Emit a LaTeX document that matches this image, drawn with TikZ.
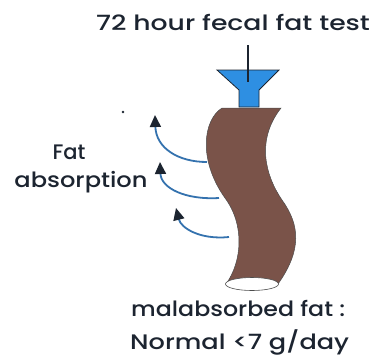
\documentclass[tikz,border=0pt]{standalone}
\usepackage{fontspec}
\setmainfont{Poppins}[UprightFont=* Medium]
\usetikzlibrary{arrows.meta,shapes.geometric}
\definecolor{ink}{HTML}{1C2430}
\definecolor{gut}{HTML}{7A5349}
\definecolor{funnelblue}{HTML}{2E8FE2}
\definecolor{flowblue}{HTML}{3472AE}
\newcommand{\wide}[2]{\scalebox{#1}[1]{#2}}
\tikzset{
  label/.style={font=\fontsize{21}{24}\selectfont, text=ink, inner sep=0pt},
  flow/.style={draw=flowblue, line width=1.8pt, -{Triangle[length=12pt,width=11pt,color=ink]}},
}
\begin{document}
\begin{tikzpicture}[x=1pt,y=-1pt]
  \useasboundingbox (0,0) rectangle (374,362);
  % labels
  \node[label] (title) at (233,22) {\wide{1.27}{72 hour fecal fat test}};
  \node[label] (fat) at (69,152) {Fat};
  \node[label] (absorption) at (81,182) {\wide{1.15}{absorption}};
  \node[label, anchor=west] (mal) at (131,308) {\wide{1.13}{malabsorbed fat :}};
  \node[label, anchor=west] (norm) at (130,342) {\wide{1.22}{Normal <7 g/day}};
  % intestine
  \fill[gut, draw=gray!60!black, line width=0.5pt]
    (222,108) .. controls (203,120) and (198,160) .. (225,198)
    .. controls (245,225) and (242,262) .. (226,284)
    -- (278,284)
    .. controls (302,250) and (300,225) .. (282,200)
    .. controls (265,175) and (256,140) .. (281,108) -- cycle;
  \node[draw=gray!60!black, fill=white, ellipse, minimum width=53pt, minimum height=13pt, inner sep=0pt, line width=0.6pt] (exit) at (252,284) {};
  % funnel
  \fill[funnelblue, draw=ink, line width=0.8pt]
    (217,70) -- (279,70) -- (259,90) -- (259,107) -- (239,107) -- (239,90) -- cycle;
  \coordinate (probetop) at (248,45);
  \coordinate (probeend) at (248,82);
  \draw[ink, line width=1.5pt] (probetop) -- (probeend);
  % absorption arrows
  \coordinate (s1) at (207,162); \coordinate (t1) at (155,115);
  \coordinate (s2) at (219,198); \coordinate (t2) at (160,162);
  \coordinate (s3) at (229,237); \coordinate (t3) at (176,208);
  \draw[flow] (s1) .. controls (178,162) and (156,148) .. (t1);
  \draw[flow] (s2) .. controls (185,200) and (161,188) .. (t2);
  \draw[flow] (s3) .. controls (200,240) and (181,228) .. (t3);
  \fill[ink] (123,112) circle (1.3pt);
\end{tikzpicture}
\end{document}
